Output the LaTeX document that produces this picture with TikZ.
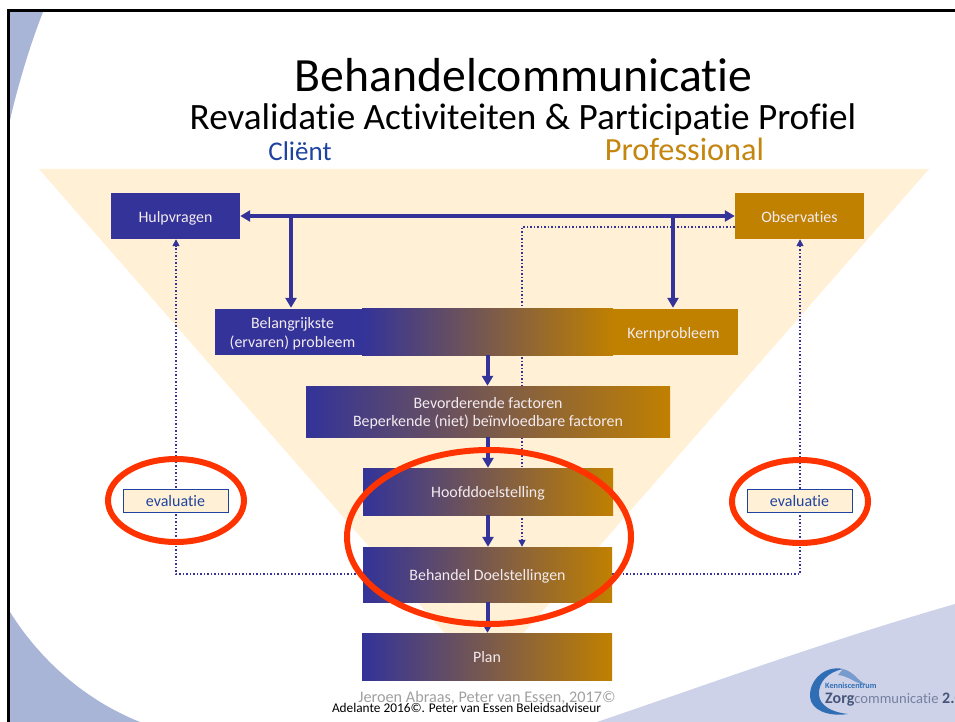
\documentclass[tikz,border=0pt]{standalone}
\usepackage{fontspec}
\setmainfont[Ligatures=NoCommon]{Carlito}
\usetikzlibrary{arrows.meta}
\definecolor{cblue}{HTML}{333399}
\definecolor{cgold}{HTML}{C08000}
\definecolor{ctri}{HTML}{FFF0D6}
\definecolor{cred}{HTML}{FF3300}
\definecolor{ctext}{HTML}{F3EBF0}
\definecolor{cclient}{HTML}{1F44A0}
\definecolor{cprof}{HTML}{C4860F}
\definecolor{ccornerA}{HTML}{A9B5D7}
\definecolor{ccornerB}{HTML}{CDD2E8}
\definecolor{cfoot}{HTML}{A0A0A0}
\definecolor{clogo}{HTML}{2F6DB5}
\definecolor{clogot}{HTML}{46557A}
\newcommand{\fs}[1]{\fontsize{#1}{#1}\selectfont}
\newcommand{\strA}{\rule[-4pt]{0pt}{20.4pt}}
\newcommand{\strB}{\rule{0pt}{16pt}}
\newcommand{\strC}{\rule[-4pt]{0pt}{0pt}}
\pgfdeclarelayer{back}
\pgfdeclarelayer{mid}
\pgfsetlayers{back,mid,main}
\tikzset{
  x=1pt,y=-1pt,
  boxbase/.style={inner sep=0pt,text=ctext,align=center,font=\fs{15.9}},
  bluebox/.style={boxbase,fill=cblue},
  goldbox/.style={boxbase,fill=cgold},
  gradbox/.style={boxbase,left color=cblue,right color=cgold},
  evalbox/.style={draw=cclient,line width=1pt,fill=ctri,text=cclient,inner sep=0pt,minimum width=105pt,minimum height=23pt,font=\fs{16}},
  thick arrow/.style={cblue,line width=4pt,-{Triangle[width=11pt,length=10pt]}},
  dot line/.style={cblue,line width=1.5pt,dash pattern=on 1.5pt off 2pt},
  dot arrow/.style={dot line,-{Triangle[width=7pt,length=7pt]}},
  red ring/.style={draw=cred,line width=6pt},
}
\begin{document}
\begin{tikzpicture}
\useasboundingbox (0,0) rectangle (955,722);
\begin{pgfonlayer}{back}
\fill[white] (0,0) rectangle (955,722);
\fill[ccornerA] (10,12) -- (43,12) .. controls (30,45) and (18,85) .. (10,120) -- cycle;
\fill[ccornerA] (10,612) .. controls (40,660) and (85,700) .. (140,722) -- (10,722) -- cycle;
\fill[ccornerB] (955,604) .. controls (830,640) and (720,680) .. (597,722) -- (955,722) -- cycle;
\draw[black,line width=3pt] (8.5,722) -- (8.5,10.5) -- (955,10.5);
\fill[ctri] (39,169) -- (929,169) -- (484,678) -- cycle;
\end{pgfonlayer}
% titles
\node[font=\fs{47.7},anchor=base,inner sep=0pt] (title) at (523.5,92) {Behandelcommunicatie};
\node[font=\fs{37.2},anchor=base,inner sep=0pt] (sub) at (523,130) {Revalidatie Activiteiten \& Participatie Profiel};
\node[font=\fs{27},anchor=base,inner sep=0pt,text=cclient] (client) at (300,161) {Cliënt};
\node[font=\fs{32.3},anchor=base,inner sep=0pt,text=cprof] (prof) at (684.5,161) {Professional};
% boxes
\node[bluebox,minimum width=129pt,minimum height=46pt] (hulp) at (175.5,216) {\strA Hulpvragen};
\node[goldbox,minimum width=129pt,minimum height=46pt] (obs) at (799.5,216) {\strA Observaties};
\node[gradbox,minimum width=251pt,minimum height=47pt] (midbar) at (487.5,331.5) {};
\node[bluebox,minimum width=147pt,minimum height=46pt] (bel) at (288.5,332) {\hspace*{8pt}\strB Belangrijkste\\[3pt]\hspace*{8pt}\strC(ervaren) probleem};
\node[goldbox,minimum width=125pt,minimum height=46pt] (kern) at (675.5,332) {\strA Kernprobleem\hspace*{4pt}};
\node[gradbox,minimum width=364pt,minimum height=51pt] (bev) at (488,411.5) {\strB Bevorderende factoren\\[3pt]\strC Beperkende (niet) beïnvloedbare factoren};
\node[gradbox,minimum width=250pt,minimum height=47pt] (hoofd) at (488,491.5) {\strA Hoofddoelstelling};
\node[gradbox,minimum width=249pt,minimum height=55pt] (beh) at (487.5,574.5) {\strA Behandel Doelstellingen};
\node[gradbox,minimum width=250pt,minimum height=47pt] (plan) at (487,656.5) {\strA Plan};
% helper coordinates
\coordinate (brL) at (291,216);
\coordinate (brR) at (673,216);
\coordinate (dotTop) at (522,227);
\coordinate (cornL) at (176,574);
\coordinate (cornR) at (800,574);
% dotted connectors behind the boxes
\begin{pgfonlayer}{mid}
\draw[dot arrow] (obs.west |- dotTop) -- (dotTop) -- (dotTop |- beh.north);
\draw[dot arrow] (beh.west |- cornL) -- (cornL) -- (cornL |- hulp.south);
\draw[dot arrow] (beh.east |- cornR) -- (cornR) -- (cornR |- obs.south);
\end{pgfonlayer}
% thick arrows
\draw[cblue,line width=4pt,{Triangle[width=11pt,length=10pt]}-{Triangle[width=11pt,length=10pt]}] (hulp.east) -- (obs.west);
\draw[thick arrow] (brL) -- (brL |- midbar.north);
\draw[thick arrow] (brR) -- (brR |- midbar.north);
\draw[thick arrow] (midbar.south) -- (midbar.south |- bev.north);
\draw[thick arrow] (bev.south) -- (hoofd.north);
\draw[thick arrow] (hoofd.south) -- (beh.north -| hoofd.south);
\draw[thick arrow] (beh.south) -- (beh.south |- plan.north);
% evaluation
\node[evalbox] (evL) at (175.5,500.5) {evaluatie};
\node[evalbox] (evR) at (799.5,500.5) {evaluatie};
\draw[red ring] (176,500.5) ellipse [x radius=68,y radius=41.5];
\draw[red ring] (800,501.5) ellipse [x radius=68,y radius=41.5];
\draw[red ring] (489,537) ellipse [x radius=142,y radius=87];
% footers
\node[font=\fs{16.2},text=cfoot,anchor=base,inner sep=0pt] (foota) at (487,702) {Jeroen Abraas, Peter van Essen, 2017©};
\node[font=\fs{13.3},anchor=base,inner sep=0pt] (footb) at (466.5,712) {Adelante 2016©. Peter van Essen Beleidsadviseur};
% logo
\fill[clogo] (843,669) .. controls (825,665) and (809,680) .. (810,697) .. controls (811,710) and (828,717) .. (848,714) .. controls (830,712) and (820,705) .. (819,695) .. controls (818,682) and (828,672) .. (843,669) -- cycle;
\fill[clogo!55!ccornerB] (843,669) .. controls (855,672) and (858,682) .. (866,684) .. controls (858,686) and (850,676) .. (838,675) -- cycle;
\node[font=\fs{8.2}\bfseries,text=clogo,anchor=base west,inner sep=0pt] (logoa) at (825,688) {Kenniscentrum};
\node[font=\fs{16},text=clogot,anchor=base west,inner sep=0pt] (logob) at (825,703) {\textbf{Zorg}{\fs{14.6}\color{clogot!65!ccornerB}communicatie} \textbf{2.0}};
\end{tikzpicture}
\end{document}
